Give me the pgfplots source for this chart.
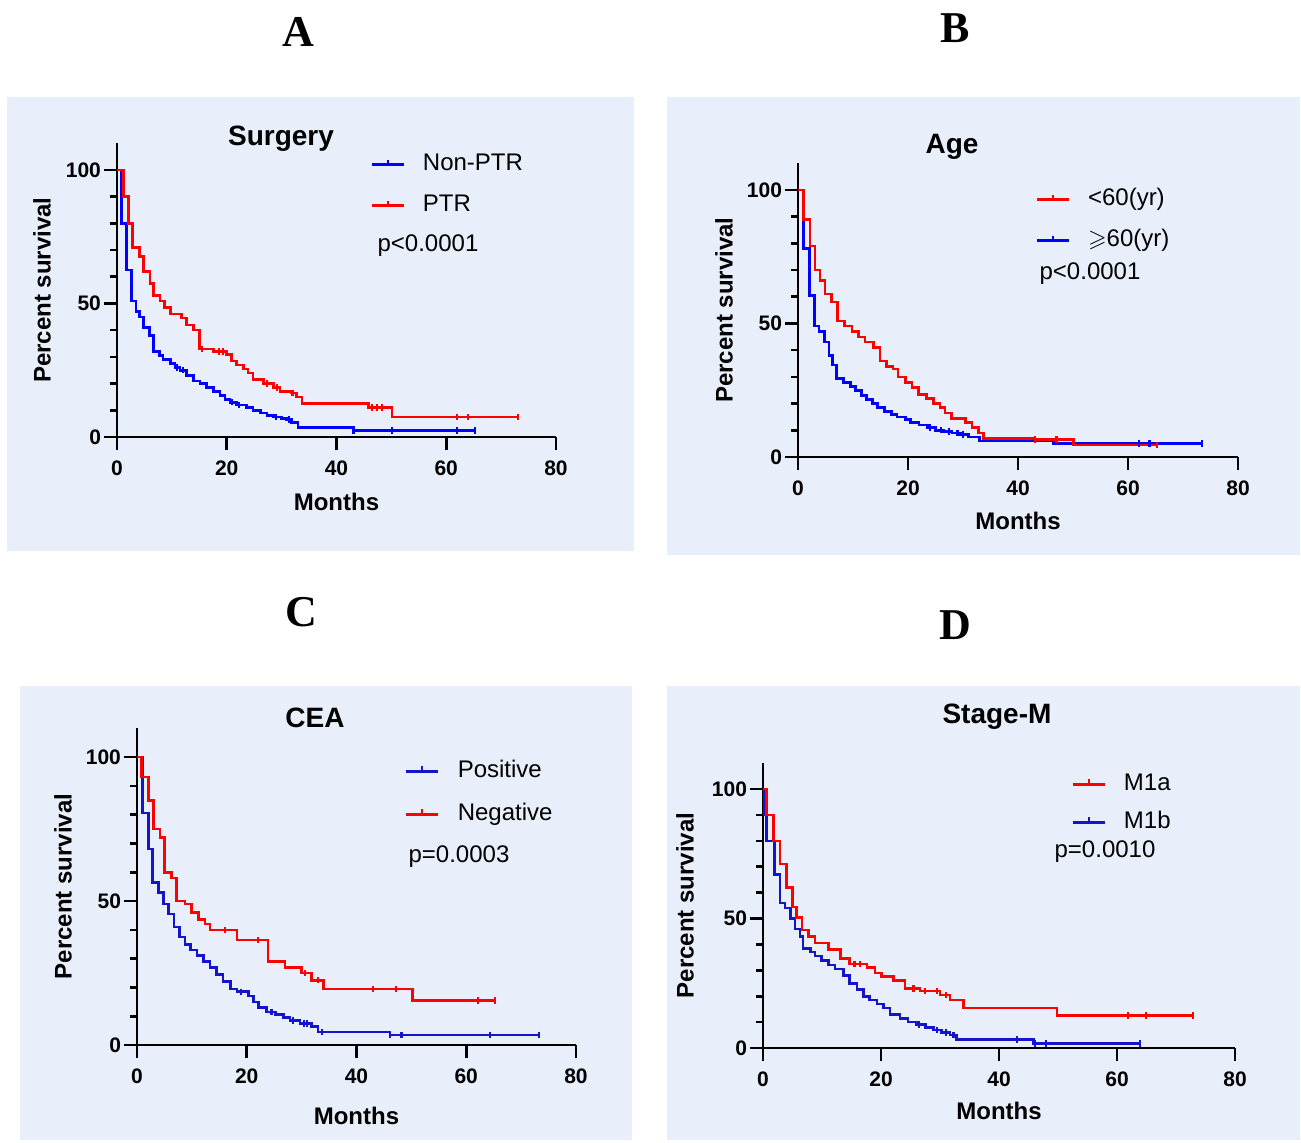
\documentclass[border=0pt]{standalone}
\usepackage{fontspec}
\setmainfont{Liberation Sans}
\newfontfamily\letterfont{Liberation Serif}
\usepackage{amssymb}
\usepackage{pgfplots}
\pgfplotsset{compat=1.18}

\definecolor{panelbg}{RGB}{232,238,250}
\definecolor{kmred}{RGB}{255,0,0}
\definecolor{kmblue}{RGB}{0,0,255}
\definecolor{kmblueb}{RGB}{20,20,205}

% Kaplan-Meier panel, 1px of the reference = 0.5pt
\pgfplotsset{
  km/.style={
    scale only axis, xmin=0, xmax=80, ymin=0, ymax=110,
    axis x line*=bottom, axis y line*=left,
    axis line style={line width=1.3pt},
    xtick={0,20,40,60,80}, ytick={0,50,100},
    minor ytick={10,20,30,40,60,70,80,90},
    tick align=outside, major tick length=6.5pt, minor tick length=3.5pt,
    every tick/.style={black, line width=1.3pt},
    tick label style={font=\bfseries\fontsize{10.5}{12}\selectfont},
    xticklabel style={yshift=-2pt}, yticklabel style={xshift=2pt},
    /pgf/number format/assume math mode=true,
    xlabel={Months}, ylabel={Percent survival},
    legend cell align=left,
    legend image code/.code={
      \draw[##1, line width=1.3pt] (0pt,0pt) -- (16pt,0pt);
      \draw[##1, line width=1pt] (8pt,0pt) -- (8pt,2.5pt);
    },
    legend style={draw=none, fill=none, inner sep=0pt,
      font=\fontsize{12}{14}\selectfont,
      nodes={inner sep=0pt, text height=9pt, text depth=3pt},
      /tikz/every odd column/.style={column sep=9pt}},
    clip=false,
  },
  xlab/.style={every axis x label/.style={at={([yshift=#1]axis description cs:0.5,0)},
      anchor=center, font=\bfseries\fontsize{12}{14}\selectfont}},
  ylab/.style={every axis y label/.style={at={([xshift=#1]axis description cs:0,0.5)},
      anchor=center, rotate=90, font=\bfseries\fontsize{12}{14}\selectfont}},
  step/.style={const plot, line width=1.3pt, forget plot},
  cens/.style={only marks, mark=|, mark size=1.6pt, line width=1.1pt, forget plot},
}

\begin{document}
\begin{tikzpicture}[x=0.5pt, y=0.5pt]
% page frame and panel backgrounds
\fill[white] (0,0) rectangle (1301,1142);
\fill[panelbg] (7,591) rectangle (634,1045);
\fill[panelbg] (667,587) rectangle (1300,1045);
\fill[panelbg] (20,2) rectangle (632,456);
\fill[panelbg] (667,2) rectangle (1300,456);

% ---------------- A: Surgery
\begin{axis}[km, at={(58.5pt,352.5pt)}, anchor=south west, width=219.5pt, height=146.85pt,
  xlab=-32.5pt, ylab=-37.5pt,
  legend style={at={(axis cs:46.1,106.6)}, anchor=north west, row sep=8.5pt}]
\addplot[step, kmblue] coordinates {(0,100)(0.85,80)(1.76,62.5)(2.67,51)(3.46,47)(4.07,45)(4.8,41)(5.9,38)(6.6,32)(7.7,30.5)(8.4,29)(9.7,27.5)(10.6,26)(11.5,25)(12.7,23)(13.9,21)(15.1,20)(16.3,18.5)(17.6,17)(18.8,15.5)(19.7,14)(20.6,13)(21.8,12)(23.6,11)(24.8,10)(26.1,9)(27.3,8)(28.5,7.5)(30,7)(30.9,6.5)(31.8,5.5)(33,3.5)(43.1,2.5)(65.2,2.5)};
\addplot[cens, kmblue] coordinates {(11,26)(12,25)(21,13)(22.3,12)(29,7.5)(31.3,6.5)(43.1,2.5)(50.1,2.5)(62,2.5)(65.2,2.5)};
\addplot[step, kmred] coordinates {(0,100)(1.15,90)(2.07,80)(2.86,71)(4.07,67.5)(4.8,62)(6.0,57.5)(6.7,53)(7.8,51)(8.7,48.5)(9.7,46)(11.8,44.5)(12.7,42)(13.9,40)(15,33)(17.6,32)(20,31)(20.9,28.5)(21.8,27)(23,25.5)(23.9,24)(24.8,21.5)(26.7,20)(28.5,18.5)(29.7,17)(31.8,16.5)(32.7,15)(33.7,12.5)(45.8,11)(50.1,7.5)(73.1,7.5)};
\addplot[cens, kmred] coordinates {(15.5,33)(18.6,32)(19.3,32)(27.4,20)(29.2,18.5)(32,16.5)(46.4,11)(47.4,11)(48.3,11)(62,7.5)(64,7.5)(73.1,7.5)};
\addlegendimage{kmblue}\addlegendentry{Non-PTR}
\addlegendimage{kmred}\addlegendentry{PTR}
\end{axis}

% ---------------- B: Age
\begin{axis}[km, at={(399pt,342.5pt)}, anchor=south west, width=220pt, height=146.85pt,
  xlab=-32pt, ylab=-37pt,
  legend style={at={(axis cs:43.1,101)}, anchor=north west, row sep=8.5pt}]
\addplot[step, kmblue] coordinates {(0,100)(0.97,78)(2.1,60.5)(3.0,49)(3.8,47)(4.8,43)(5.6,38)(6.3,34.5)(7.0,29.5)(8.3,28)(9.5,26.5)(10.5,25)(11.5,23)(12.5,21.5)(13.5,20)(14.5,18.5)(15.7,17)(17,16)(18,15)(19.5,14)(20.5,13)(22,12)(23.5,11)(25,10)(26.5,9.5)(28,9)(29.5,8.5)(31,7.5)(33,6)(46.4,5)(73.4,5)};
\addplot[cens, kmblue] coordinates {(24,11)(26,10)(27.5,9.5)(29,9)(30,8.5)(62,5)(63.9,5)(73.4,5)};
\addplot[step, kmred] coordinates {(0,100)(0.97,89)(2.18,79)(3.09,70)(4.0,66)(4.9,61)(6.1,58)(7.15,51)(8.5,49)(9.8,47)(11,45)(12.2,43)(13.7,41)(14.9,36)(16.1,34)(17.3,33)(18.2,30)(19.5,28)(20.7,26)(21.9,23.5)(23.4,22)(24.6,20)(25.8,18.5)(26.7,16.5)(27.9,14.5)(30.4,13)(31.6,11)(32.8,9)(33.7,7)(43.1,6.5)(50.1,4.5)(65.2,4.5)};
\addplot[cens, kmred] coordinates {(43.1,6.5)(47,6.5)(65.2,4.5)};
\addlegendimage{kmred}\addlegendentry{<60(yr)}
\addlegendimage{kmblue}\addlegendentry{$\geqslant$60(yr)}
\end{axis}

% ---------------- C: CEA
\begin{axis}[km, at={(68.5pt,48.5pt)}, anchor=south west, width=219.5pt, height=158.4pt,
  xlab=-35.5pt, ylab=-37pt,
  legend style={at={(axis cs:48.8,99.3)}, anchor=north west, row sep=9.5pt}]
\addplot[step, kmblueb] coordinates {(0,100)(0.97,80.5)(2.07,68)(2.86,56.5)(3.89,53)(4.8,49)(5.71,45.5)(6.74,41)(7.72,37.5)(8.75,35)(9.78,33)(10.9,31)(12.1,29)(13.3,27)(14.5,24.5)(15.7,22)(17,19.5)(18.2,18.5)(20.3,17)(21.2,15)(22.1,13)(23.6,11.5)(25.2,10.5)(26.7,9.5)(27.9,8.5)(29.7,7.5)(31.8,6.5)(33,4.5)(46.1,3.5)(73.3,3.5)};
\addplot[cens, kmblueb] coordinates {(19,18.5)(24.5,11.5)(28.5,8.5)(30.4,7.5)(31,7.5)(33.7,4.5)(46.1,3.5)(48.2,3.5)(64.3,3.5)(73.3,3.5)};
\addplot[step, kmred] coordinates {(0,100)(0.85,93)(2.07,85)(2.98,75)(4.19,72)(4.98,60)(6.32,58)(7.23,50)(8.75,49)(9.96,46)(11.2,43.5)(12.4,42)(13.3,40)(18.2,36.5)(23.9,29)(27,27)(30,25)(31.8,22.5)(34,19.5)(50.2,15.5)(65.3,15.5)};
\addplot[cens, kmred] coordinates {(16,40)(22.1,36.5)(30.6,25)(33,22.5)(43,19.5)(47.2,19.5)(62.2,15.5)(65.3,15.5)};
\addlegendimage{kmblueb}\addlegendentry{Positive}
\addlegendimage{kmred}\addlegendentry{Negative}
\end{axis}

% ---------------- D: Stage-M
\begin{axis}[km, at={(381.5pt,47pt)}, anchor=south west, width=236pt, height=142.45pt,
  xlab=-31.5pt, ylab=-39pt,
  legend style={at={(axis cs:52.2,106.6)}, anchor=north west, row sep=7pt}]
\addplot[step, kmblueb] coordinates {(0,100)(0.3,90)(0.6,80)(1.9,67)(2.9,56)(3.7,54)(4.7,50)(5.4,46)(6.3,43)(6.8,38.5)(8.0,37)(8.8,35.5)(9.9,33.7)(11.1,32)(12.2,30.5)(13.6,28)(14.7,25)(15.9,22.5)(17,20)(18.1,18.5)(19.3,17)(20.4,15.5)(21.5,13)(23.2,11.5)(24.6,10)(26,9)(27.5,8)(28.9,7)(30.3,6)(31.7,5)(32.8,3.3)(45.8,1.8)(63.9,1.8)};
\addplot[cens, kmblueb] coordinates {(26.5,9)(29.5,7)(31,6)(32.3,5)(43,3.3)(46.1,1.8)(48,1.8)(63.9,1.8)};
\addplot[step, kmred] coordinates {(0,100)(0.6,90)(1.75,80)(2.9,71)(4.0,62)(5.0,54.5)(5.7,50.5)(6.6,45.5)(7.7,43)(8.8,40.5)(11.1,38)(13.1,34.5)(14.7,32.5)(17.6,31)(19,29)(20.1,27.5)(22.1,26)(24.1,23)(26.6,22)(30,20.5)(31.7,18.5)(34,15.5)(49.8,12.5)(72.9,12.5)};
\addplot[cens, kmred] coordinates {(15.5,32.5)(16.5,32.5)(25.5,23)(27.5,22)(29.5,22)(31,20.5)(61.9,12.5)(64.9,12.5)(72.9,12.5)};
\addlegendimage{kmred}\addlegendentry{M1a}
\addlegendimage{kmblueb}\addlegendentry{M1b}
\end{axis}

% panel letters, titles and p-values
\begin{scope}[every node/.style={inner sep=0pt}]
\node[font=\letterfont\bfseries\fontsize{22}{26}\selectfont] at (298,1110) {A};
\node[font=\letterfont\bfseries\fontsize{22}{26}\selectfont] at (955,1114) {B};
\node[font=\letterfont\bfseries\fontsize{22}{26}\selectfont] at (301,530) {C};
\node[font=\letterfont\bfseries\fontsize{22}{26}\selectfont] at (955,517) {D};
\node[font=\bfseries\fontsize{14}{16}\selectfont] at (281,1003) {Surgery};
\node[font=\bfseries\fontsize{14}{16}\selectfont] at (952,995) {Age};
\node[font=\bfseries\fontsize{14}{16}\selectfont] at (315,424) {CEA};
\node[font=\bfseries\fontsize{14}{16}\selectfont] at (997,425) {Stage-M};
\node[font=\fontsize{12}{14}\selectfont] at (428,896) {p<0.0001};
\node[font=\fontsize{12}{14}\selectfont] at (1090,868) {p<0.0001};
\node[font=\fontsize{12}{14}\selectfont] at (459,285) {p=0.0003};
\node[font=\fontsize{12}{14}\selectfont] at (1105,290) {p=0.0010};
\end{scope}
\end{tikzpicture}
\end{document}
